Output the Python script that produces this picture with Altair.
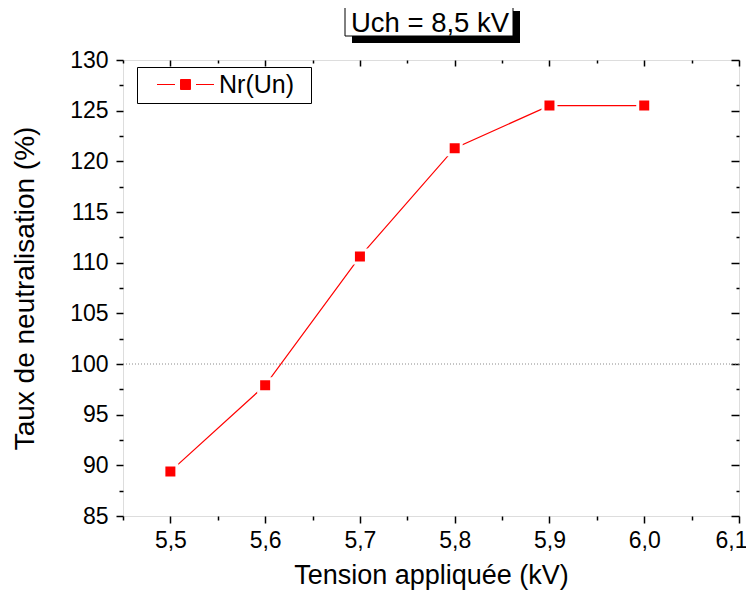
import altair as alt
import pandas as pd

# ---- data ----
tension_kv = [5.5, 5.6, 5.7, 5.8, 5.9, 6.0]
nr_un = [89.4, 97.9, 110.6, 121.3, 125.5, 125.5]
series_name = "Nr(Un)"
ref_level = [100]
title_text = "Uch = 8,5 kV"
x_title = "Tension appliquée (kV)"
y_title = "Taux de neutralisation (%)"
x_ticks = [5.45, 5.5, 5.55, 5.6, 5.65, 5.7, 5.75, 5.8, 5.85, 5.9, 5.95, 6.0, 6.05, 6.1]
x_major = [5.5, 5.6, 5.7, 5.8, 5.9, 6.0, 6.1]
x_minor = [5.45, 5.55, 5.65, 5.75, 5.85, 5.95, 6.05]
y_ticks = [85, 87.5, 90, 92.5, 95, 97.5, 100, 102.5, 105, 107.5, 110, 112.5,
           115, 117.5, 120, 122.5, 125, 127.5, 130]
y_major = [85, 90, 95, 100, 105, 110, 115, 120, 125, 130]
y_minor = [87.5, 92.5, 97.5, 102.5, 107.5, 112.5, 117.5, 122.5, 127.5]
x_domain = [5.45, 6.1]
y_domain = [85, 130]

F = "Liberation Sans"
W, H = 616, 456

df = pd.DataFrame({"x": tension_kv, "y": nr_un, "series": [series_name] * len(tension_kv)})
ref_df = pd.DataFrame({"ref": ref_level})
title_df = pd.DataFrame({"t": [title_text]})

x_scale = alt.Scale(domain=x_domain, nice=False, zero=False)
y_scale = alt.Scale(domain=y_domain, nice=False, zero=False)

X_MAJOR = "round(datum.value*100) % 10 == 0"
Y_MAJOR = "datum.value % 5 == 0"

common_axis = dict(grid=False, domain=False, tickColor="black", tickWidth=1.5,
                   labelOverlap=False, labelColor="black")

bottom_axis = alt.Axis(
    orient="bottom", values=x_ticks,
    tickSize={"condition": {"test": X_MAJOR, "value": 7}, "value": 4},
    labelFlush=True, labelFlushOffset=8,
    labelExpr=f"{X_MAJOR} ? replace(format(datum.value, '.1f'), '.', ',') : ''",
    labelFont=F, labelFontSize=23, labelPadding=6,
    title=x_title, titleFont=F, titleFontSize=27, titleFontWeight="normal",
    titleColor="black", titlePadding=10,
    **common_axis)
left_axis = alt.Axis(
    orient="left", values=y_ticks,
    tickSize={"condition": {"test": Y_MAJOR, "value": 7}, "value": 4},
    labelExpr=f"{Y_MAJOR} ? format(datum.value, 'd') : ''",
    labelFont=F, labelFontSize=23, labelPadding=8,
    title=y_title, titleFont=F, titleFontSize=28, titleFontWeight="normal",
    titleColor="black", titlePadding=30,
    **common_axis)
# inward ticks on the top and right edges (negative offset pulls them inside)
top_major = alt.Axis(orient="top", values=x_major, labels=False, title=None,
                     tickSize=6, offset=-6, **common_axis)
right_major = alt.Axis(orient="right", values=y_major, labels=False, title=None,
                       tickSize=8, offset=-8, **common_axis)
top_minor = alt.Axis(orient="top", values=x_minor, labels=False, title=None,
                     tickSize=3, offset=-3, **common_axis)
right_minor = alt.Axis(orient="right", values=y_minor, labels=False, title=None,
                       tickSize=3, offset=-3, **common_axis)

LEG_PATH = ("M -4.75 0 L -1.75 0 M 1.75 0 L 4.75 0 "
            "M -0.83 -0.83 L 0.83 -0.83 L 0.83 0.83 L -0.83 0.83 Z")

ref_rule = alt.Chart(ref_df).mark_rule(color="#8a8a8a", strokeWidth=1, strokeDash=[1, 2]).encode(
    y=alt.Y("ref:Q", scale=y_scale, axis=None)
)

frame_minor = alt.Chart(df).mark_point(opacity=0).encode(
    x=alt.X("x:Q", scale=x_scale, axis=top_minor),
    y=alt.Y("y:Q", scale=y_scale, axis=right_minor),
)

line = alt.Chart(df).mark_line(color="red", strokeWidth=1.2).encode(
    x=alt.X("x:Q", scale=x_scale, axis=bottom_axis),
    y=alt.Y("y:Q", scale=y_scale, axis=left_axis),
)

points = alt.Chart(df).mark_square(size=169, filled=True, opacity=1, stroke="white", strokeWidth=3).encode(
    x=alt.X("x:Q", scale=x_scale, axis=top_major),
    y=alt.Y("y:Q", scale=y_scale, axis=right_major),
    color=alt.Color("series:N", scale=alt.Scale(domain=[series_name], range=["red"]),
                    legend=alt.Legend(
                        orient="none", legendX=14, legendY=7,
                        title=" ", titleOrient="right", titlePadding=12, titleFontSize=1,
                        fillColor="white", strokeColor="black", padding=5,
                        labelFont=F, labelFontSize=25, labelColor="black",
                        symbolType=LEG_PATH, symbolSize=144, symbolOffset=31,
                        symbolStrokeColor="red", symbolStrokeWidth=1,
                        symbolFillColor="red", labelOffset=21)),
)

shadow = alt.Chart(title_df).mark_rect(color="black").encode(
    x=alt.value(229), x2=alt.value(397), y=alt.value(-49), y2=alt.value(-17))
box = alt.Chart(title_df).mark_rect(fill="white", stroke="black", strokeWidth=1).encode(
    x=alt.value(222), x2=alt.value(390), y=alt.value(-56), y2=alt.value(-24))
title = alt.Chart(title_df).mark_text(font=F, fontSize=27.5, color="black", align="center",
                                      baseline="alphabetic").encode(
    x=alt.value(307), y=alt.value(-28), text="t:N")

chart = alt.layer(ref_rule, frame_minor, line, points, shadow, box, title).resolve_axis(
    x="independent", y="independent"
).properties(
    width=W, height=H,
    padding={"left": 115, "top": 52, "right": 7, "bottom": 75},
    autosize=alt.AutoSizeParams(type="none"),
).configure_view(stroke="black", strokeWidth=2).configure(background="white")

chart.save("out.html", embed_options={"renderer": "svg", "actions": False})
